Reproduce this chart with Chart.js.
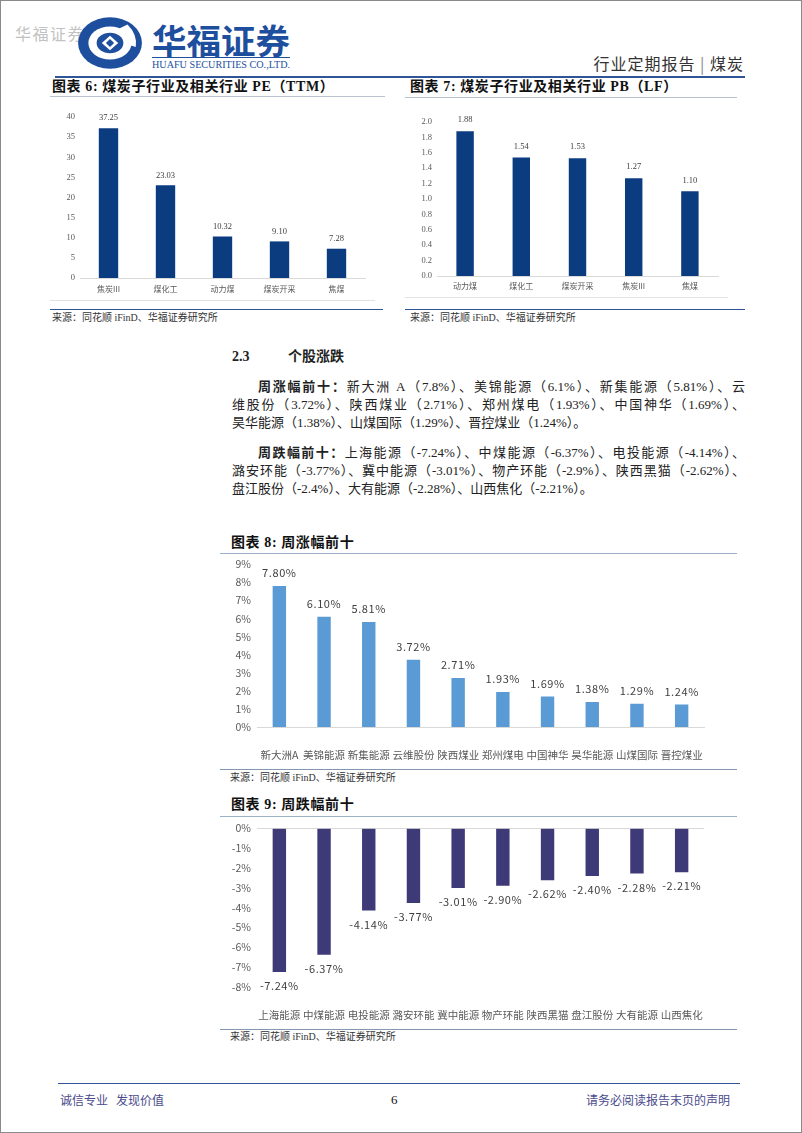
<!DOCTYPE html>
<html>
<head>
<meta charset="utf-8">
<script src="https://cdn.jsdelivr.net/npm/chart.js@4.4.1/dist/chart.umd.min.js"></script>
<style>
  html, body { margin: 0; padding: 0; background: #fff; }
  body { width: 802px; height: 1133px; position: relative; overflow: hidden;
         font-family: "Liberation Serif", "Noto Sans CJK SC", serif; color: #222; }
  .frame { position: absolute; left: 0; top: 0; width: 800px; height: 1131px; border: 1px solid #8a8a8a; }
  .t { position: absolute; white-space: nowrap; line-height: 20px; }
  .hl { position: absolute; height: 0; }
  canvas { position: absolute; }
  .ttl { font-weight: bold; font-size: 14px; color: #111; letter-spacing: 0.6px; }
  .src { font-size: 10px; color: #333; }
  .ln { position: absolute; left: 232px; width: 513px; font-size: 13px; line-height: 18px;
        text-align: justify; text-align-last: justify; color: #222; }
  .ln.last { text-align: left; text-align-last: left; }
  .ln b { font-weight: bold; }
</style>
</head>
<body>
<div class="frame"></div>

<!-- header -->
<div class="t" style="left:15px;top:23px;font-size:16px;color:#c2c2c2;letter-spacing:1.5px;font-family:'Noto Sans CJK SC';">华福证券</div>
<svg style="position:absolute;left:76px;top:16px;" width="68" height="54" viewBox="0 0 66 52">
  <ellipse cx="33" cy="26" rx="31" ry="25" fill="#1d4f9e"/>
  <ellipse cx="33" cy="26" rx="21" ry="16" fill="#fff"/>
  <path d="M50 8 Q60 18 58 30 L46 26 Q48 18 42 12 Z" fill="#fff"/>
  <ellipse cx="33" cy="26" rx="13" ry="10" fill="#1d4f9e"/>
  <path d="M33 19 L41 26 L33 33 L25 26 Z" fill="#fff"/>
  <path d="M33 22 L37 26 L33 30 L29 26 Z" fill="#1d4f9e"/>
</svg>
<svg style="position:absolute;left:150px;top:18px;" width="145" height="55">
  <text x="2" y="36" font-size="34" font-weight="bold" fill="#1d4f9e" font-family="Noto Sans CJK SC" textLength="138" lengthAdjust="spacingAndGlyphs">华福证券</text>
  <line x1="2" y1="39.5" x2="140" y2="39.5" stroke="#1d4f9e" stroke-width="1"/>
  <text x="2" y="50" font-size="10" fill="#1d4f9e" font-family="Liberation Serif" textLength="138" lengthAdjust="spacingAndGlyphs">HUAFU SECURITIES CO.,LTD.</text>
</svg>
<div class="t" style="right:58px;top:53px;font-size:16px;color:#333;font-family:'Noto Sans CJK SC';letter-spacing:1px;">行业定期报告 <span style="color:#888;">|</span> 煤炭</div>
<div class="hl" style="left:55px;top:76px;width:690px;border-top:2px solid #2f5597;"></div>

<!-- chart 6 / 7 titles -->
<div class="t ttl" style="left:52px;top:77px;">图表 6:&nbsp;煤炭子行业及相关行业 PE（TTM）</div>
<div class="hl" style="left:50px;top:96px;width:335px;border-top:1px solid #b9c3cf;"></div>
<div class="t ttl" style="left:410px;top:77px;">图表 7:&nbsp;煤炭子行业及相关行业 PB（LF）</div>
<div class="hl" style="left:405px;top:97px;width:332px;border-top:1px solid #b9c3cf;"></div>

<canvas id="c6" width="315" height="191" style="left:55px;top:107px;"></canvas>
<canvas id="c7" width="318" height="185" style="left:405px;top:110px;"></canvas>

<div class="hl" style="left:50px;top:300px;width:325px;border-top:1px solid #e2e2e2;"></div>
<div class="hl" style="left:50px;top:309px;width:333px;border-top:1.5px solid #2f5597;"></div>
<div class="t src" style="left:52px;top:308px;">来源：同花顺 iFinD、华福证券研究所</div>
<div class="hl" style="left:405px;top:297px;width:323px;border-top:1px solid #e2e2e2;"></div>
<div class="hl" style="left:405px;top:309px;width:340px;border-top:1.5px solid #2f5597;"></div>
<div class="t src" style="left:410px;top:308px;">来源：同花顺 iFinD、华福证券研究所</div>

<!-- section text -->
<div class="t" style="left:232px;top:347px;font-size:14px;font-weight:bold;">2.3</div>
<div class="t" style="left:288px;top:347px;font-size:14px;font-weight:bold;">个股涨跌</div>

<div class="ln" style="top:378px;padding-left:26px;width:487px;"><b>周涨幅前十：</b>新大洲 A（7.8%）、美锦能源（6.1%）、新集能源（5.81%）、云</div>
<div class="ln" style="top:396px;">维股份（3.72%）、陕西煤业（2.71%）、郑州煤电（1.93%）、中国神华（1.69%）、</div>
<div class="ln last" style="top:414px;">昊华能源（1.38%）、山煤国际（1.29%）、晋控煤业（1.24%）。</div>
<div class="ln" style="top:444px;padding-left:26px;width:487px;"><b>周跌幅前十：</b>上海能源（-7.24%）、中煤能源（-6.37%）、电投能源（-4.14%）、</div>
<div class="ln" style="top:462px;">潞安环能（-3.77%）、冀中能源（-3.01%）、物产环能（-2.9%）、陕西黑猫（-2.62%）、</div>
<div class="ln last" style="top:480px;">盘江股份（-2.4%）、大有能源（-2.28%）、山西焦化（-2.21%）。</div>

<!-- chart 8 -->
<div class="t ttl" style="left:231px;top:533px;">图表 8:&nbsp;周涨幅前十</div>
<div class="hl" style="left:220px;top:553px;width:517px;border-top:1.5px solid #9db1c6;"></div>
<canvas id="c8" width="500" height="214" style="left:225px;top:552px;"></canvas>
<div class="hl" style="left:220px;top:769px;width:517px;border-top:1.5px solid #8497b0;"></div>
<div class="t src" style="left:230px;top:768px;">来源：同花顺 iFinD、华福证券研究所</div>

<!-- chart 9 -->
<div class="t ttl" style="left:231px;top:795px;">图表 9:&nbsp;周跌幅前十</div>
<div class="hl" style="left:220px;top:816px;width:517px;border-top:1.5px solid #9db1c6;"></div>
<canvas id="c9" width="500" height="210" style="left:225px;top:816px;"></canvas>
<div class="hl" style="left:220px;top:1029px;width:517px;border-top:1.5px solid #8497b0;"></div>
<div class="t src" style="left:230px;top:1027px;">来源：同花顺 iFinD、华福证券研究所</div>

<!-- footer -->
<div class="hl" style="left:58px;top:1083px;width:682px;border-top:1px solid #2f5597;"></div>
<div class="t" style="left:60px;top:1090px;font-size:12px;color:#4a4a8c;font-family:'Noto Sans CJK SC';">诚信专业&nbsp;&nbsp;&nbsp;发现价值</div>
<div class="t" style="left:391px;top:1090px;font-size:13px;color:#111;">6</div>
<div class="t" style="right:72px;top:1090px;font-size:12px;color:#4a4a8c;font-family:'Noto Sans CJK SC';">请务必阅读报告末页的声明</div>

<script>
// 图表6 PE(TTM)
const peCats = ["焦炭III", "煤化工", "动力煤", "煤炭开采", "焦煤"];
const peVals = [37.25, 23.03, 10.32, 9.10, 7.28];
// 图表7 PB(LF)
const pbCats = ["动力煤", "煤化工", "煤炭开采", "焦炭III", "焦煤"];
const pbVals = [1.88, 1.54, 1.53, 1.27, 1.10];
// 图表8 周涨幅前十 (%)
const upCats = ["新大洲A", "美锦能源", "新集能源", "云维股份", "陕西煤业", "郑州煤电", "中国神华", "昊华能源", "山煤国际", "晋控煤业"];
const upVals = [7.80, 6.10, 5.81, 3.72, 2.71, 1.93, 1.69, 1.38, 1.29, 1.24];
// 图表9 周跌幅前十 (%)
const downCats = ["上海能源", "中煤能源", "电投能源", "潞安环能", "冀中能源", "物产环能", "陕西黑猫", "盘江股份", "大有能源", "山西焦化"];
const downVals = [-7.24, -6.37, -4.14, -3.77, -3.01, -2.90, -2.62, -2.40, -2.28, -2.21];

const CJK = "'Noto Sans CJK SC'";
const SERIF = "'Liberation Serif'";

// 柱子上的数值标签
function barLabels(cfg) {
  return {
    id: "barLabels",
    afterDatasetsDraw(chart) {
      const ctx = chart.ctx;
      const meta = chart.getDatasetMeta(0);
      const vals = chart.data.datasets[0].data;
      ctx.save();
      ctx.font = cfg.font;
      ctx.fillStyle = cfg.color;
      ctx.textAlign = "center";
      ctx.textBaseline = "middle";
      if (cfg.spacing) ctx.letterSpacing = cfg.spacing;
      meta.data.forEach((bar, i) => {
        const v = vals[i];
        const y = v >= 0 ? bar.y - cfg.offset : bar.y + cfg.offset;
        ctx.fillText(cfg.format(v), bar.x, y);
      });
      ctx.restore();
    }
  };
}

function baseOptions(pad) {
  return {
    responsive: false,
    animation: false,
    devicePixelRatio: 1,
    layout: { padding: pad },
    plugins: { legend: { display: false }, tooltip: { enabled: false } },
  };
}

// 图表6
new Chart(document.getElementById("c6"), {
  type: "bar",
  data: { labels: peCats, datasets: [{ data: peVals, backgroundColor: "#0c3c80", categoryPercentage: 1, barPercentage: 0.34 }] },
  options: Object.assign(baseOptions({ top: 0, right: 5, left: 0, bottom: 0 }), {
    scales: {
      x: {
        grid: { display: false, drawTicks: false },
        border: { color: "#d9d9d9" },
        ticks: { font: { family: CJK, size: 8 }, color: "#595959", padding: 6, maxRotation: 0, autoSkip: false },
        afterFit(s) { s.height = 20; }
      },
      y: {
        min: 0, max: 40,
        grid: { display: false, drawTicks: false },
        border: { display: false },
        ticks: { stepSize: 5, font: { family: SERIF, size: 8.5 }, color: "#595959", padding: 5 },
        afterFit(s) { s.width = 25; }
      }
    }
  }),
  plugins: [barLabels({ font: "8.5px " + SERIF, color: "#404040", offset: 10, format: v => v.toFixed(2) })]
});

// 图表7
new Chart(document.getElementById("c7"), {
  type: "bar",
  data: { labels: pbCats, datasets: [{ data: pbVals, backgroundColor: "#0c3c80", categoryPercentage: 1, barPercentage: 0.31 }] },
  options: Object.assign(baseOptions({ top: 12, right: 5, left: 0, bottom: 0 }), {
    scales: {
      x: {
        grid: { display: false, drawTicks: false },
        border: { color: "#d9d9d9" },
        ticks: { font: { family: CJK, size: 8 }, color: "#595959", padding: 5, maxRotation: 0, autoSkip: false },
        afterFit(s) { s.height = 19; }
      },
      y: {
        min: 0, max: 2,
        grid: { display: false, drawTicks: false },
        border: { display: false },
        ticks: { stepSize: 0.2, font: { family: SERIF, size: 8.5 }, color: "#595959", padding: 5,
                 callback: v => Number(v).toFixed(1) },
        afterFit(s) { s.width = 32; }
      }
    }
  }),
  plugins: [barLabels({ font: "8.5px " + SERIF, color: "#404040", offset: 11, format: v => v.toFixed(2) })]
});

// 图表8
new Chart(document.getElementById("c8"), {
  type: "bar",
  data: { labels: upCats, datasets: [{ data: upVals, backgroundColor: "#5b9bd5", categoryPercentage: 1, barPercentage: 0.3 }] },
  options: Object.assign(baseOptions({ top: 0, right: 7, left: 0, bottom: 0 }), {
    scales: {
      x: {
        grid: { display: false, drawTicks: false },
        border: { color: "#d9d9d9" },
        ticks: { font: { family: CJK, size: 10.5 }, color: "#595959", padding: 22, maxRotation: 0, autoSkip: false },
        afterFit(s) { s.height = 39; }
      },
      y: {
        min: 0, max: 9,
        grid: { display: false, drawTicks: false },
        border: { display: false },
        ticks: { stepSize: 1, font: { family: CJK, size: 10.5 }, color: "#595959", padding: 6,
                 callback: v => v + "%" },
        afterFit(s) { s.width = 32; }
      }
    }
  }),
  plugins: [barLabels({ font: "11px " + CJK, color: "#404040", offset: 13, spacing: "0.6px", format: v => v.toFixed(2) + "%" })]
});

// 图表9
new Chart(document.getElementById("c9"), {
  type: "bar",
  data: { labels: downCats, datasets: [{ data: downVals, backgroundColor: "#3e3a78", categoryPercentage: 1, barPercentage: 0.3 }] },
  options: Object.assign(baseOptions({ top: 0, right: 7, left: 0, bottom: 0 }), {
    scales: {
      x: {
        grid: { display: false, drawTicks: false },
        border: { display: false },
        ticks: { font: { family: CJK, size: 10.5 }, color: "#595959", padding: 22, maxRotation: 0, autoSkip: false },
        afterFit(s) { s.height = 39; }
      },
      y: {
        min: -8, max: 0,
        grid: { drawTicks: false, color: c => (c.tick && c.tick.value === 0 ? "#d9d9d9" : "rgba(0,0,0,0)") },
        border: { display: false },
        ticks: { stepSize: 1, font: { family: CJK, size: 10.5 }, color: "#595959", padding: 6,
                 callback: v => (v === 0 ? "0" : v) + "%" },
        afterFit(s) { s.width = 32; }
      }
    }
  }),
  plugins: [barLabels({ font: "11px " + CJK, color: "#404040", offset: 14, spacing: "0.6px", format: v => v.toFixed(2) + "%" })]
});
</script>
</body>
</html>
